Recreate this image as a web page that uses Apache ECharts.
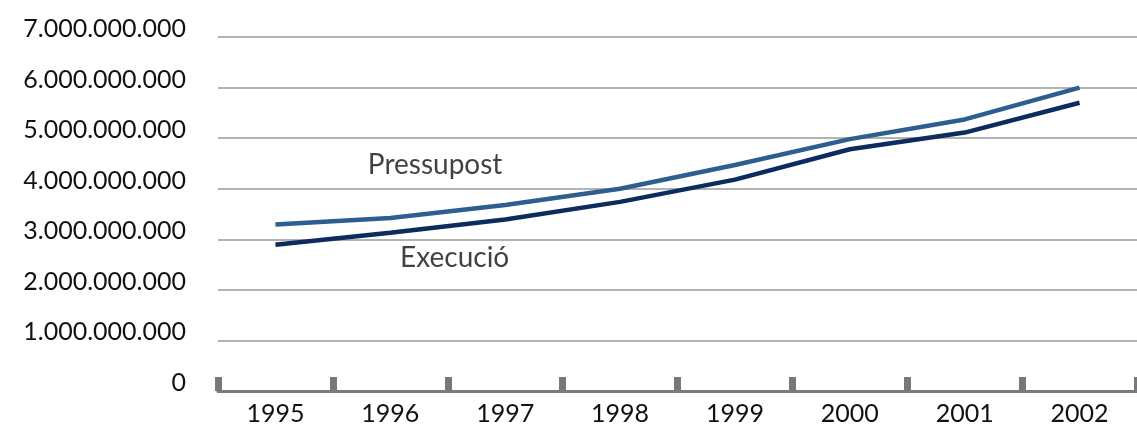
<!DOCTYPE html>
<html>
<head>
<meta charset="utf-8">
<script src="https://cdn.jsdelivr.net/npm/echarts@6/dist/echarts.min.js"></script>
<style>
html,body{margin:0;padding:0;background:#fff;}
#chart{width:1137px;height:428px;}
</style>
</head>
<body>
<div id="chart"></div>
<script>
// ---- data ----
var years = ['1995','1996','1997','1998','1999','2000','2001','2002'];
var pressupost = [3.29e9, 3.42e9, 3.68e9, 4.00e9, 4.47e9, 4.98e9, 5.37e9, 6.00e9];
var execucio   = [2.89e9, 3.13e9, 3.39e9, 3.74e9, 4.18e9, 4.78e9, 5.11e9, 5.70e9];
var seriesNames = ['Pressupost', 'Execució'];
// annotation anchors in data space: [category position (band units), value]
var annotPressupost = [1.89, 4.46e9];
var annotExecucio   = [2.06, 2.63e9];

function fmt(v){
  return String(Math.round(v)).replace(/\B(?=(\d{3})+(?!\d))/g, '.');
}

var FONT = 'Lato, "Open Sans", sans-serif';
var chart = echarts.init(document.getElementById('chart'), null, {renderer:'canvas'});
chart.setOption({
  backgroundColor: '#ffffff',
  animation: false,
  grid: {left: 218, top: 37, width: 930, height: 354, containLabel: false},
  xAxis: [{
    type: 'category',
    data: years,
    boundaryGap: true,
    axisLine: {show: true, lineStyle: {color: '#7b7c7f', width: 3}},
    axisTick: {show: true, inside: true, length: 14, lineStyle: {color: '#77787b', width: 7}},
    axisLabel: {color: '#111', fontFamily: FONT, fontSize: 25, margin: 10},
    splitLine: {show: false}
  }, {
    type: 'value', min: 0, max: 8, show: false,
    axisLine:{show:false}, axisTick:{show:false}, axisLabel:{show:false}, splitLine:{show:false}
  }],
  yAxis: {
    type: 'value',
    min: 0, max: 7e9, interval: 1e9,
    axisLine: {show: false},
    axisTick: {show: false},
    axisLabel: {
      color: '#111', fontFamily: FONT, fontSize: 25, margin: 32,
      verticalAlign: 'bottom', lineHeight: 16,
      formatter: fmt
    },
    splitLine: {show: true, lineStyle: {color: '#9a9a9a', width: 1.5}}
  },
  series: [{
    name: seriesNames[0], type: 'line', data: pressupost,
    showSymbol: false, symbol: 'none',
    lineStyle: {color: '#2c5e8f', width: 4.5, cap: 'butt'},
    z: 3
  }, {
    name: seriesNames[1], type: 'line', data: execucio,
    showSymbol: false, symbol: 'none',
    lineStyle: {color: '#0c2b5e', width: 4.5, cap: 'butt'},
    z: 4
  }, {
    type: 'scatter', xAxisIndex: 1, symbolSize: 0, silent: true,
    data: [
      {value: annotPressupost, label: {formatter: seriesNames[0]}},
      {value: annotExecucio, label: {formatter: seriesNames[1]}}
    ],
    label: {show: true, position: 'inside', color: '#111', fontFamily: FONT, fontSize: 28}
  }]
});
</script>
</body>
</html>
